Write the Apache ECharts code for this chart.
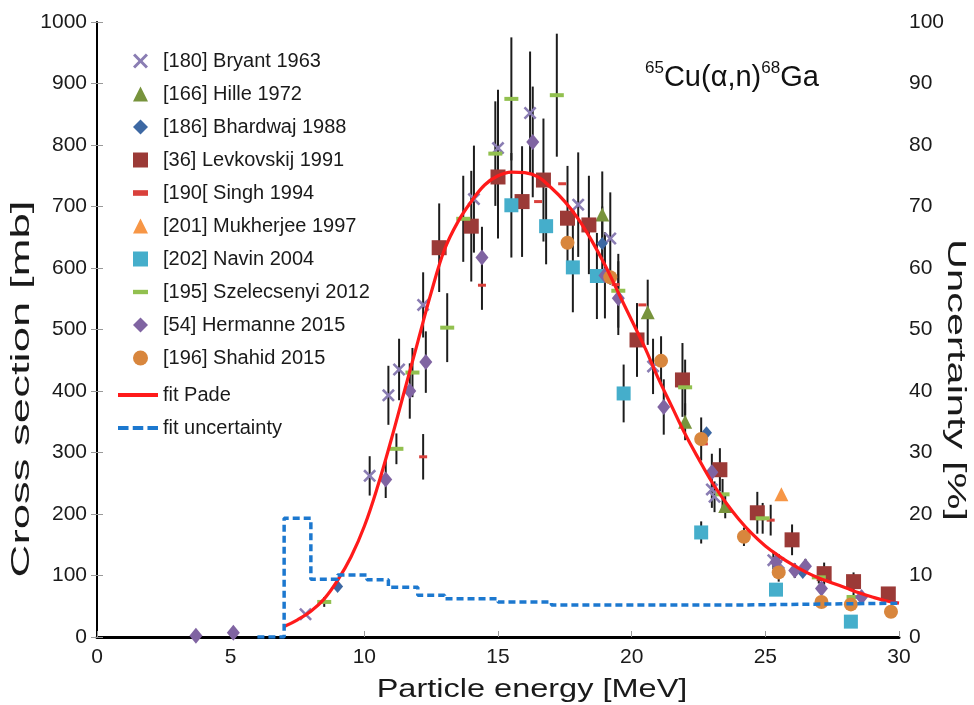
<!DOCTYPE html>
<html>
<head>
<meta charset="utf-8">
<script src="https://cdn.jsdelivr.net/npm/echarts@6/dist/echarts.min.js"></script>
<style>html,body{margin:0;padding:0;background:#fff}#c{width:974px;height:705px}</style>
</head>
<body>
<div id="c"></div>
<script>
// ---- data: [energy MeV, cross section mb, error half-width mb] ----
const bryant = [[7.8,37,0],[10.2,262,32],[10.9,393,48],[11.3,435,50],[12.2,540,53],[14.1,712,87],[15.0,795,95],[16.2,852,100],[18.0,703,85],[19.2,648,75],[20.8,440,45],[23.0,240,30],[23.1,228,25],[25.3,125,15],[25.5,120,15]];
const hille = [[18.9,687,70],[20.6,528,53],[22.0,350,30],[23.5,213,20]];
const bhardwaj = [[9.0,82,0],[18.9,640,60],[22.8,332,0],[26.4,105,0]];
const levkovskij = [[12.8,633,72],[14.0,668,90],[15.0,748,100],[15.9,708,90],[16.7,743,100],[17.6,681,85],[18.4,670,80],[20.2,483,60],[21.9,418,60],[23.3,272,35],[24.7,202,34],[26.0,158,25],[27.2,103,18],[28.3,90,15],[29.6,70,10]];
const singh = [[12.2,293,37],[14.4,572,40],[16.5,708,0],[17.4,737,0],[19.4,573,0],[20.4,540,0],[22.7,314,0],[25.2,190,25]];
const mukherjee = [[25.6,232,0]];
const navin = [[15.5,702,85],[16.8,668,62],[17.8,601,73],[18.7,587,70],[19.7,396,47],[22.6,170,18],[25.4,77,0],[28.2,25,0]];
const szelecsenyi = [[8.5,57,8],[11.2,306,25],[11.8,430,40],[13.1,503,56],[13.7,680,70],[14.9,786,85],[15.5,875,100],[17.2,881,100],[19.5,563,60],[22.0,406,45],[23.4,232,25],[24.9,193,25],[27.0,97,10],[28.3,65,8]];
const hermanne = [[3.7,2,0],[5.1,7,0],[10.8,256,30],[11.7,400,45],[12.3,447,50],[14.4,617,50],[16.3,805,90],[19.0,588,70],[19.5,551,60],[21.2,374,45],[23.0,268,30],[25.4,122,15],[26.1,108,12],[26.5,115,12],[27.1,79,10],[28.6,65,0]];
const shahid = [[17.6,641,0],[19.2,585,0],[21.1,449,40],[22.6,322,35],[24.2,163,15],[25.5,105,15],[27.1,57,0],[28.2,53,0],[29.7,41,0]];

// fit Pade curve (cross section, mb)
const fitE = [7.0,7.5,8,8.5,9,9.5,10,10.5,11,11.5,12,12.5,13,13.5,14,14.5,15,15.5,16,16.5,17,17.5,18,18.5,19,19.5,20,20.5,21,21.5,22,22.5,23,23.5,24,24.5,25,25.5,26,26.5,27,27.5,28,28.5,29,29.5,30];
const fitY = [17,28,42,62,92,130,180,245,320,400,480,560,630,675,708,735,750,756,755,748,730,708,680,645,605,560,515,470,420,375,330,290,252,220,192,168,148,132,118,106,96,88,80,72,65,59,55];

// fit uncertainty (%), step values starting at each energy
const uncE = [6.0,7.0,8.0,9.0,10.1,10.9,12.0,13.0,15.0,17.0,24.0,30.0];
const uncV = [0,19.3,9.4,10.1,9.3,8.1,6.8,6.2,5.7,5.2,5.5,5.5];

const xTicks = [0,5,10,15,20,25,30];
const yTicksLeft = [0,100,200,300,400,500,600,700,800,900,1000];
const yTicksRight = [0,10,20,30,40,50,60,70,80,90,100];

// ---- series definitions ----
const FONT = '"Liberation Sans", Arial, sans-serif';
const crossPath = 'path://M1.4,0 L5,3.6 L8.6,0 L10,1.4 L6.4,5 L10,8.6 L8.6,10 L5,6.4 L1.4,10 L0,8.6 L3.6,5 L0,1.4 Z';
const dashPath = 'path://M0,0 L12,0 L12,3.5 L0,3.5 Z';
const sets = [
  {name:'[180] Bryant 1963', data:bryant, symbol:crossPath, size:13, color:'#8A7DB3'},
  {name:'[166] Hille 1972', data:hille, symbol:'triangle', size:14, color:'#77933C'},
  {name:'[186] Bhardwaj 1988', data:bhardwaj, symbol:'diamond', size:[11,13], color:'#3D68A3'},
  {name:'[36] Levkovskij 1991', data:levkovskij, symbol:'rect', size:15, color:'#9B3A37'},
  {name:'[190[ Singh 1994', data:singh, symbol:'rect', size:[8,3], color:'#D9403B', legendIcon:'path://M0,0 L8,0 L8,3 L0,3 Z'},
  {name:'[201] Mukherjee 1997', data:mukherjee, symbol:'triangle', size:14, color:'#F79646'},
  {name:'[202] Navin 2004', data:navin, symbol:'rect', size:14, color:'#45AECB'},
  {name:'[195] Szelecsenyi 2012', data:szelecsenyi, symbol:'rect', size:[14,4], color:'#92C04F', legendIcon:dashPath},
  {name:'[54] Hermanne 2015', data:hermanne, symbol:'diamond', size:[13,16], color:'#8064A2'},
  {name:'[196] Shahid 2015', data:shahid, symbol:'circle', size:14, color:'#D8863D'}
];

const errData = [];
sets.forEach(s => s.data.forEach(d => { if (d[2] > 0) errData.push([d[0], d[1]-d[2], d[1]+d[2]]); }));

const series = [];
series.push({
  name:'errors', type:'custom', z:1, silent:true,
  data: errData,
  encode:{x:0, y:[1,2]},
  renderItem: function(params, api){
    const x = api.value(0);
    const p1 = api.coord([x, api.value(1)]);
    const p2 = api.coord([x, api.value(2)]);
    return {type:'line', shape:{x1:p1[0], y1:p1[1], x2:p2[0], y2:p2[1]}, style:{stroke:'#1c1c1c', lineWidth:2}};
  }
});
sets.forEach(s => {
  series.push({
    name:s.name, type:'scatter', z:3,
    data:s.data.map(d => [d[0], d[1]]),
    symbol:s.symbol, symbolSize:s.size, symbolKeepAspect:false,
    itemStyle:{color:s.color, opacity:1},
    emphasis:{disabled:true}
  });
});
series.push({
  name:'fit Pade', type:'line', z:4, smooth:0.4, symbol:'none',
  data: fitE.map((e,i) => [e, fitY[i]]),
  lineStyle:{color:'#FF1A1A', width:3.2}, itemStyle:{color:'#FF1A1A'}
});
series.push({
  name:'fit uncertainty', type:'line', z:4, step:'end', symbol:'none', yAxisIndex:1,
  data: uncE.map((e,i) => [e, uncV[i]]),
  lineStyle:{color:'#1C78CF', width:3.5, type:[7,4]}, itemStyle:{color:'#1C78CF'}
});

const labelStyle = {fontFamily:FONT, fontSize:21, color:'#1a1a1a', formatter: v => String(v)};

const option = {
  animation:false,
  backgroundColor:'#fff',
  textStyle:{fontFamily:FONT},
  title:{
    text:'{s|65}{m|Cu(α,n)}{s|68}{m|Ga}',
    left:640, top:55,
    textStyle:{
      fontWeight:'normal',
      rich:{
        s:{fontSize:17, fontFamily:FONT, fontWeight:'normal', color:'#111', verticalAlign:'top', lineHeight:32},
        m:{fontSize:29, fontFamily:FONT, fontWeight:'normal', color:'#111', verticalAlign:'bottom', lineHeight:32}
      }
    }
  },
  legend:[
    {
      data: sets.map(s => s.legendIcon ? {name:s.name, icon:s.legendIcon} : {name:s.name}),
      orient:'vertical', left:128, top:46, itemWidth:15, itemHeight:15, itemGap:13,
      selectedMode:false,
      textStyle:{fontFamily:FONT, fontSize:20, color:'#1a1a1a', padding:[0,0,0,10]}
    },
    {
      data:[
        {name:'fit Pade', icon:'path://M0,0 L40,0 L40,4 L0,4 Z'},
        {name:'fit uncertainty', icon:'path://M0,0 L10,0 L10,4 L0,4 Z M14,0 L24,0 L24,4 L14,4 Z M28,0 L38,0 L38,4 L28,4 Z'}
      ],
      orient:'vertical', left:113, top:380, itemWidth:40, itemHeight:14, itemGap:13,
      selectedMode:false,
      textStyle:{fontFamily:FONT, fontSize:20, color:'#1a1a1a'}
    }
  ],
  grid:{left:97, right:75, top:22, bottom:68, containLabel:false, outerBoundsMode:'none'},
  graphic:[
    {type:'text', x:22, y:389, rotation:Math.PI/2, scaleX:1.75, scaleY:1,
     style:{text:'Cross section [mb]', fontFamily:FONT, fontSize:26, fill:'#1a1a1a', align:'center', verticalAlign:'middle'}},
    {type:'text', x:955, y:380, rotation:-Math.PI/2, scaleX:1.6, scaleY:1,
     style:{text:'Uncertainty [%]', fontFamily:FONT, fontSize:26, fill:'#1a1a1a', align:'center', verticalAlign:'middle'}},
    {type:'text', x:532, y:690, scaleX:1.3, scaleY:1,
     style:{text:'Particle energy [MeV]', fontFamily:FONT, fontSize:25, fill:'#1a1a1a', align:'center', verticalAlign:'middle'}}
  ],
  xAxis:[
    {
      type:'value', min:xTicks[0], max:xTicks[xTicks.length-1], interval:5, position:'bottom',
      axisLine:{show:true, lineStyle:{color:'#6b6b6b', width:2}},
      axisTick:{show:true, inside:true, length:6, lineStyle:{color:'#999'}},
      axisLabel:Object.assign({margin:10}, labelStyle),
      splitLine:{show:false}
    },
    {
      type:'value', min:xTicks[0], max:xTicks[xTicks.length-1], position:'top',
      axisLine:{show:true, lineStyle:{color:'#000', width:3}},
      axisTick:{show:false}, axisLabel:{show:false}, splitLine:{show:false}
    }
  ],
  yAxis:[
    {
      type:'value', min:yTicksLeft[0], max:yTicksLeft[yTicksLeft.length-1], interval:100, position:'left',
      axisLine:{show:true, lineStyle:{color:'#8a8a8a', width:1.5}},
      axisTick:{show:true, inside:true, length:6, lineStyle:{color:'#999'}},
      axisLabel:Object.assign({margin:10}, labelStyle),
      splitLine:{show:false}
    },
    {
      type:'value', min:yTicksRight[0], max:yTicksRight[yTicksRight.length-1], interval:10, position:'right',
      axisLine:{show:true, lineStyle:{color:'#000', width:2}},
      axisTick:{show:true, inside:true, length:6, lineStyle:{color:'#999'}},
      axisLabel:Object.assign({margin:10}, labelStyle),
      splitLine:{show:false}
    }
  ],
  series: series
};

const chart = echarts.init(document.getElementById('c'), null, {renderer:'canvas'});
chart.setOption(option);
</script>
</body>
</html>
